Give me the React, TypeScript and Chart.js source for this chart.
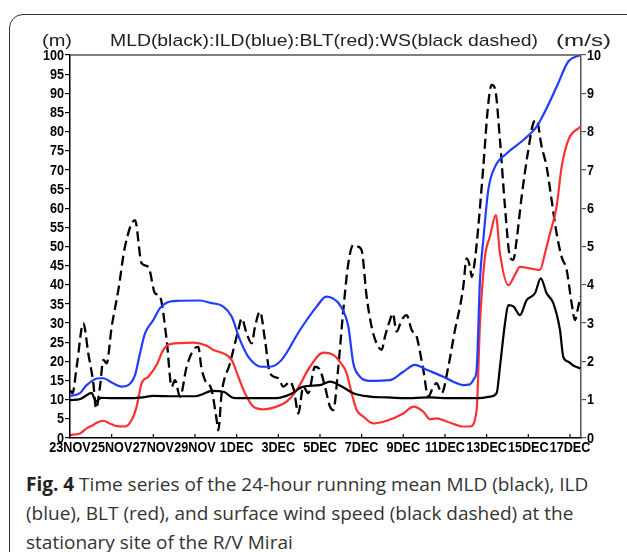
import React, { useEffect, useRef } from "react";
import { Chart, registerables } from "chart.js";

Chart.register(...registerables);

// x = days since 23 NOV 00Z
const tickDays = [0, 2, 4, 6, 8, 10, 12, 14, 16, 18, 20, 22, 24];
const tickLabels = ["23NOV", "25NOV", "27NOV", "29NOV", "1DEC", "3DEC", "5DEC", "7DEC", "9DEC", "11DEC", "13DEC", "15DEC", "17DEC"];
const leftTicks = [0, 5, 10, 15, 20, 25, 30, 35, 40, 45, 50, 55, 60, 65, 70, 75, 80, 85, 90, 95, 100];
const rightTicks = [0, 1, 2, 3, 4, 5, 6, 7, 8, 9, 10];

// MLD (m), black solid
const mldPoints: [number, number][] = [
  [0, 9.9], [0.5, 10.2], [1.05, 11.8], [1.15, 10.5], [1.25, 9.6], [1.5, 10.5], [2, 10.4], [3, 10.4],
  [3.5, 10.6], [4, 11.0], [5, 10.9], [6, 10.9], [6.4, 11.5], [6.8, 12.3], [7.4, 12.0], [7.84, 10.5],
  [8.5, 10.4], [9.9, 10.4], [10.6, 11.5], [11.2, 13.4], [12.0, 13.8], [12.48, 14.7], [13.0, 13.6],
  [13.6, 11.7], [14.4, 10.8], [15.2, 10.6], [16, 10.4], [17.3, 10.6], [18.2, 10.4], [19, 10.4],
  [19.8, 10.5], [20.16, 10.8], [20.48, 11.7], [20.64, 18.6], [20.88, 29.9], [21.04, 34.7],
  [21.3, 34.3], [21.6, 32.1], [21.92, 36.0], [22.32, 37.8], [22.6, 41.7], [22.88, 37.8],
  [23.2, 35.2], [23.52, 28.2], [23.68, 21.2], [23.92, 19.9], [24.2, 18.8], [24.5, 18.2],
];

// ILD (m), blue
const ildPoints: [number, number][] = [
  [0, 11.0], [0.48, 11.7], [0.8, 13.8], [1.36, 15.6], [1.6, 15.6], [2, 14.5], [2.48, 13.4],
  [2.8, 13.8], [3.12, 16.4], [3.36, 22.1], [3.6, 27.3], [4, 30.8], [4.32, 33.9], [4.64, 35.3],
  [5.12, 35.8], [6.24, 35.9], [6.72, 35.3], [7.36, 34.3], [7.76, 31.7], [8.16, 25.6], [8.56, 21.2],
  [9.2, 18.6], [9.6, 18.6], [10.16, 20.4], [11.04, 28.2], [11.84, 34.3], [12.3, 36.9], [12.6, 36.5],
  [12.96, 34.7], [13.36, 29.1], [13.6, 19.5], [13.92, 16.0], [14.4, 14.9], [15.36, 15.1],
  [16, 17.3], [16.56, 19.1], [17.12, 17.8], [17.92, 16.0], [18.4, 14.7], [18.88, 13.8],
  [19.2, 14.0], [19.4, 15.5], [19.52, 17.8], [19.68, 41.3], [19.84, 51.7], [20.08, 64.8],
  [20.4, 70.8], [20.96, 74.3], [21.76, 77.8], [22.4, 81.3], [22.88, 86.1], [23.36, 91.7],
  [23.92, 98.3], [24.5, 100],
];

// BLT (m), red
const bltPoints: [number, number][] = [
  [0, 0.8], [0.48, 1.2], [0.8, 2.5], [1.12, 3.4], [1.28, 4.0], [1.6, 4.5], [1.9, 3.8], [2.24, 3.1],
  [2.64, 3.0], [2.96, 4.7], [3.2, 8.2], [3.44, 14.3], [3.76, 16.0], [4.16, 19.1], [4.48, 23.0],
  [4.8, 24.5], [5.92, 24.9], [6.56, 24.1], [6.88, 23.0], [7.36, 22.1], [7.76, 20.4], [8.08, 16.0],
  [8.4, 11.7], [8.8, 8.2], [9.28, 7.5], [9.92, 8.2], [10.4, 9.5], [10.88, 12.5], [11.52, 18.6],
  [12.16, 22.3], [12.64, 21.7], [12.96, 19.9], [13.28, 16.9], [13.52, 11.7], [13.76, 7.3],
  [14.08, 5.6], [14.56, 3.8], [15.2, 4.5], [16, 6.4], [16.48, 8.2], [16.96, 6.9], [17.28, 4.9],
  [17.6, 5.1], [18.08, 4.3], [18.5, 3.5], [18.8, 3.0], [19.2, 3.0], [19.52, 7.3], [19.68, 29.9],
  [19.92, 47.3], [20.16, 52.6], [20.44, 58.2], [20.64, 48.2], [21.04, 39.9], [21.36, 42.6],
  [21.6, 44.7], [22.08, 44.3], [22.56, 43.9], [22.8, 48.2], [23.04, 53.4], [23.36, 60.4],
  [23.6, 70.8], [23.92, 77.8], [24.5, 81.3],
];

// Wind speed (m/s), black dashed, right axis
const wsPoints: [number, number][] = [
  [0, 1.25], [0.12, 1.17], [0.32, 1.86], [0.64, 3.0], [0.88, 2.2], [1.12, 1.43], [1.25, 0.77],
  [1.44, 1.34], [1.6, 2.04], [1.76, 1.95], [2, 2.9], [2.32, 3.86], [2.64, 5.0], [3.12, 5.69],
  [3.44, 4.56], [3.76, 4.47], [4.08, 3.78], [4.32, 3.69], [4.64, 2.56], [4.88, 1.34], [5.04, 1.51],
  [5.28, 1.08], [5.6, 1.86], [5.92, 2.3], [6.16, 2.38], [6.3, 1.86], [6.48, 1.51], [6.8, 1.25],
  [7.04, 0.47], [7.12, 0.2], [7.28, 1.17], [7.68, 1.95], [8.08, 2.82], [8.24, 3.12], [8.48, 2.73],
  [8.72, 2.47], [8.88, 2.9], [9.12, 3.3], [9.36, 2.56], [9.6, 1.69], [10.0, 1.56], [10.24, 1.34],
  [10.56, 1.47], [10.75, 1.25], [10.96, 0.64], [11.2, 1.34], [11.44, 1.17], [11.76, 1.86],
  [12.0, 1.78], [12.24, 1.34], [12.48, 0.82], [12.64, 0.73], [12.88, 1.86], [13.12, 3.34],
  [13.36, 4.56], [13.6, 5.04], [13.8, 5.0], [14.0, 4.9], [14.24, 3.69], [14.48, 2.9], [14.72, 2.47],
  [14.96, 2.3], [15.12, 2.65], [15.36, 3.08], [15.49, 3.25], [15.68, 2.78], [15.92, 3.08],
  [16.16, 3.21], [16.4, 2.82], [16.64, 2.65], [16.72, 2.47], [16.96, 1.78], [17.2, 1.08],
  [17.44, 1.34], [17.6, 1.43], [17.84, 1.17], [18.16, 1.86], [18.48, 2.82], [18.72, 3.43],
  [18.88, 3.95], [19.04, 4.69], [19.2, 4.47], [19.28, 4.21], [19.44, 4.65], [19.6, 5.52],
  [19.84, 7.08], [20.08, 8.74], [20.24, 9.22], [20.4, 9.13], [20.64, 7.78], [20.88, 6.04],
  [21.12, 4.73], [21.28, 4.65], [21.44, 5.17], [21.68, 6.3], [22.0, 7.52], [22.24, 8.22],
  [22.4, 8.3], [22.64, 7.61], [22.88, 7.08], [23.12, 6.21], [23.36, 5.34], [23.6, 4.73],
  [23.84, 4.39], [24.08, 3.52], [24.24, 3.08], [24.4, 3.43], [24.5, 3.69],
];

const titleText = "MLD(black):ILD(blue):BLT(red):WS(black dashed)";
const leftUnit = "(m)";
const rightUnit = "(m/s)";

const LABEL_FONT = "bold 15px 'Liberation Sans', Arial, sans-serif";
const SQUEEZE = 0.84;

const toXY = (pts: [number, number][]) => pts.map(([x, y]) => ({ x, y }));

function drawSqueezed(ctx: any, t: string, x: number, y: number, align: string, sx: number) {
  ctx.save();
  ctx.translate(x, y);
  ctx.scale(sx, 1);
  ctx.textAlign = align;
  ctx.fillText(t, 0, 0);
  ctx.restore();
}

const decorPlugin = {
  id: "decor",
  afterDraw(chart: any) {
    const { ctx, chartArea, scales } = chart;
    ctx.save();
    // top frame line
    ctx.strokeStyle = "#555";
    ctx.lineWidth = 1.5;
    ctx.beginPath();
    ctx.moveTo(chartArea.left, chartArea.top);
    ctx.lineTo(chartArea.right, chartArea.top);
    ctx.stroke();
    // inward bottom ticks
    ctx.strokeStyle = "#000";
    ctx.lineWidth = 1.2;
    for (const d of tickDays) {
      const x = scales.x.getPixelForValue(d);
      ctx.beginPath();
      ctx.moveTo(x, chartArea.bottom);
      ctx.lineTo(x, chartArea.bottom - 4);
      ctx.stroke();
    }
    // tick labels (condensed bold, like the original)
    ctx.fillStyle = "#000";
    ctx.font = LABEL_FONT;
    ctx.textBaseline = "middle";
    leftTicks.forEach((v) => {
      drawSqueezed(ctx, String(v), chartArea.left - 6, scales.y.getPixelForValue(v) + 0.5, "right", SQUEEZE);
    });
    rightTicks.forEach((v) => {
      drawSqueezed(ctx, String(v), chartArea.right + 6, scales.y1.getPixelForValue(v) + 0.5, "left", SQUEEZE);
    });
    tickDays.forEach((d, i) => {
      drawSqueezed(ctx, tickLabels[i], scales.x.getPixelForValue(d), chartArea.bottom + 10, "center", SQUEEZE);
    });
    // title (stretched to the width of the original)
    ctx.fillStyle = "#222";
    ctx.textBaseline = "alphabetic";
    ctx.font = "17px 'Liberation Sans', Arial, sans-serif";
    const drawFit = (t: string, x0: number, x1: number, y: number) => {
      const w = ctx.measureText(t).width;
      ctx.save();
      ctx.translate(x0, y);
      ctx.scale((x1 - x0) / w, 1);
      ctx.textAlign = "left";
      ctx.fillText(t, 0, 0);
      ctx.restore();
    };
    drawFit(titleText, 110, 538, 46);
    drawFit(leftUnit, 42, 72, 46);
    drawFit(rightUnit, 556, 611, 46);
    ctx.restore();
  },
};

export default function App() {
  const ref = useRef<HTMLCanvasElement>(null);
  useEffect(() => {
    if (!ref.current) return;
    const chart = new Chart(ref.current, {
      type: "line",
      data: {
        datasets: [
          { label: "MLD", data: toXY(mldPoints), borderColor: "#000", borderWidth: 2.2, yAxisID: "y" },
          { label: "ILD", data: toXY(ildPoints), borderColor: "#1f3cff", borderWidth: 2.2, yAxisID: "y" },
          { label: "BLT", data: toXY(bltPoints), borderColor: "#ff3030", borderWidth: 2.2, yAxisID: "y" },
          { label: "WS", data: toXY(wsPoints), borderColor: "#000", borderWidth: 2.3, borderDash: [10, 5], yAxisID: "y1" },
        ],
      },
      options: {
        responsive: false,
        animation: false,
        parsing: false as any,
        layout: { padding: { top: 55, left: 0, right: 0, bottom: 0 } },
        elements: {
          point: { radius: 0, hoverRadius: 0 },
          line: { cubicInterpolationMode: "monotone", fill: false },
        },
        plugins: { legend: { display: false }, tooltip: { enabled: false } },
        scales: {
          x: {
            type: "linear",
            min: 0,
            max: 24.53,
            afterBuildTicks: (s: any) => {
              s.ticks = tickDays.map((v) => ({ value: v }));
            },
            afterFit: (s: any) => {
              s.height = 32;
            },
            grid: { display: false },
            border: { display: true, color: "#000", width: 1.5 },
            ticks: { display: false },
          },
          y: {
            type: "linear",
            position: "left",
            min: 0,
            max: 100,
            afterBuildTicks: (s: any) => {
              s.ticks = leftTicks.map((v) => ({ value: v }));
            },
            afterFit: (s: any) => {
              s.width = 70;
            },
            grid: { drawOnChartArea: false, drawTicks: true, tickLength: 5, color: "#000", lineWidth: 1.2 },
            border: { display: true, color: "#000", width: 1.5 },
            ticks: { display: false, autoSkip: false },
          },
          y1: {
            type: "linear",
            position: "right",
            min: 0,
            max: 10,
            afterBuildTicks: (s: any) => {
              s.ticks = rightTicks.map((v) => ({ value: v }));
            },
            afterFit: (s: any) => {
              s.width = 46;
            },
            grid: { drawOnChartArea: false, drawTicks: true, tickLength: 5, color: "#555", lineWidth: 1.2 },
            border: { display: true, color: "#555", width: 1.5 },
            ticks: { display: false, autoSkip: false },
          },
        },
      },
      plugins: [decorPlugin],
    });
    return () => chart.destroy();
  }, []);

  return (
    <div style={{ position: "absolute", left: 0, top: 0, width: 627, height: 552, overflow: "hidden", background: "#fff" }}>
      <div
        style={{
          position: "absolute",
          left: 9,
          top: 14,
          width: 640,
          height: 570,
          border: "1.5px solid #333",
          borderRadius: 14,
          boxSizing: "border-box",
        }}
      />
      <canvas ref={ref} width={627} height={470} style={{ position: "absolute", left: 0, top: 0 }} />
      <div
        style={{
          position: "absolute",
          left: 26,
          top: 470,
          fontFamily: "'Open Sans', 'Noto Sans', sans-serif",
          fontSize: 19,
          lineHeight: "29px",
          color: "#333",
          whiteSpace: "nowrap",
        }}
      >
        <div>
          <b style={{ color: "#222" }}>Fig. 4</b> Time series of the 24-hour running mean MLD (black), ILD
        </div>
        <div>(blue), BLT (red), and surface wind speed (black dashed) at the</div>
        <div>stationary site of the R/V Mirai</div>
      </div>
    </div>
  );
}
